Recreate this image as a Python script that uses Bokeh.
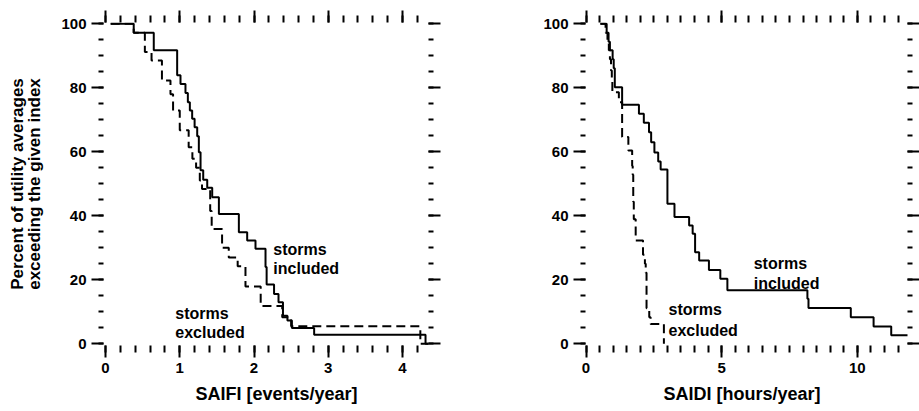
from bokeh.plotting import figure
from bokeh.models import LinearAxis, SingleIntervalTicker, Range1d, Title
from bokeh.layouts import row
from bokeh.embed import file_html
from bokeh.resources import INLINE
from bokeh.core.properties import value

# ---- data ----
# SAIFI, storms included: breakpoints [events/year] and percent level from that point on
saifi_incl_x = [0.07, 0.38, 0.65, 0.965, 1.01, 1.077, 1.109, 1.136, 1.167, 1.2, 1.235, 1.257,
                1.28, 1.316, 1.37, 1.437, 1.527, 1.796, 1.908, 2.02, 2.155, 2.17, 2.27, 2.33,
                2.39, 2.45, 2.51, 2.81, 4.31, 4.5]
saifi_incl_y = [100, 97.2, 91.7, 83.9, 81.2, 78.4, 75.5, 72.9, 70.3, 67.7, 64.9, 59.9,
                54.2, 51.3, 48.8, 45.8, 40.6, 34.9, 32.3, 29.7, 24.0, 18.5, 15.6, 13.0,
                8.8, 7.3, 4.9, 2.8, 0, 0]

# SAIFI, storms excluded
saifi_excl_x = [0.07, 0.38, 0.53, 0.62, 0.76, 0.875, 0.91, 1.0, 1.12, 1.17, 1.22, 1.27, 1.30,
                1.41, 1.43, 1.57, 1.66, 1.78, 1.885, 2.09, 2.38, 2.50, 4.24, 4.5]
saifi_excl_y = [100, 97.2, 91.2, 88.5, 82.3, 78.0, 72.9, 66.7, 61.4, 57.8, 55.0, 51.0, 48.4,
                41.5, 35.9, 30.0, 27.0, 24.2, 17.9, 11.8, 8.3, 5.5, 0, 0]

# SAIDI, storms included [hours/year]
saidi_incl_x = [0.53, 0.76, 0.83, 0.88, 0.98, 1.02, 1.06, 1.33, 1.95, 2.13, 2.32, 2.40, 2.52,
                2.66, 2.75, 3.0, 3.26, 3.8, 3.93, 4.02, 4.17, 4.53, 4.95, 5.21, 8.16, 8.2,
                9.76, 10.6, 11.25, 12.0]
saidi_incl_y = [100, 97.2, 94.4, 91.7, 88.9, 86.1, 80.2, 74.7, 71.9, 69.1, 66.1, 63.0, 59.8,
                57.0, 54.5, 43.8, 39.6, 37.0, 34.4, 28.6, 26.0, 23.1, 20.3, 16.7, 14.1, 11.2,
                8.3, 5.4, 2.7, 2.7]

# SAIDI, storms excluded
saidi_excl_x = [0.53, 0.72, 0.79, 0.84, 0.88, 0.92, 0.95, 0.97, 1.21, 1.33, 1.56, 1.70, 1.72,
                1.74, 1.76, 1.83, 2.10, 2.17, 2.20, 2.23, 2.33, 2.38, 2.87]
saidi_excl_y = [100, 97.2, 94.4, 91.7, 88.9, 85.4, 82.3, 78.6, 75.5, 64.6, 60.4, 55.6, 52.8,
                44.4, 38.9, 32.3, 27.8, 25.0, 22.2, 11.1, 8.3, 6.2, 0]

FONT = "Liberation Sans"


def style_axis(ax, ticker, minor_len, labels):
    ax.ticker = ticker
    ax.axis_line_color = None
    ax.major_tick_in = 0
    ax.major_tick_out = 12
    ax.minor_tick_in = 0
    ax.minor_tick_out = minor_len
    ax.major_tick_line_width = 2
    ax.minor_tick_line_width = 2
    ax.major_tick_line_color = "black"
    ax.minor_tick_line_color = "black"
    if labels:
        ax.major_label_text_font = FONT
        ax.major_label_text_font_style = "bold"
        ax.major_label_text_font_size = "15px"
        ax.major_label_text_color = "black"
        ax.major_label_standoff = 5
    else:
        ax.major_label_text_font_size = "1px"
        ax.major_label_text_color = None
        ax.major_label_standoff = 0


def make_panel(width, mb_left, mb_right, xr, xint, xminor, xlabel, xlabel_offset, ylabel):
    p = figure(width=width, height=411, x_range=Range1d(*xr), y_range=Range1d(-0.53, 100.41),
               output_backend="svg", toolbar_location=None,
               min_border_left=mb_left, min_border_right=mb_right,
               min_border_top=22, min_border_bottom=66)
    p.xgrid.visible = False
    p.ygrid.visible = False
    p.outline_line_color = None
    p.background_fill_color = "white"
    xt = SingleIntervalTicker(interval=xint, num_minor_ticks=xminor)
    yt = SingleIntervalTicker(interval=20, num_minor_ticks=4)
    bottom = p.xaxis[0]
    leftax = p.yaxis[0]
    style_axis(bottom, xt, 7, True)
    style_axis(leftax, yt, 5, True)
    top = LinearAxis()
    right = LinearAxis()
    style_axis(top, xt, 7, False)
    style_axis(right, yt, 5, False)
    p.add_layout(top, "above")
    p.add_layout(right, "right")
    t = Title(text=xlabel, align="left", offset=xlabel_offset, text_font=FONT,
              text_font_style="bold", text_font_size="18px", text_color="black", standoff=12)
    p.add_layout(t, "below")
    if ylabel:
        leftax.axis_label = ylabel
        leftax.axis_label_text_font = FONT
        leftax.axis_label_text_font_style = "bold"
        leftax.axis_label_text_font_size = "17px"
        leftax.axis_label_text_color = "black"
        leftax.axis_label_text_line_height = 0.92
        leftax.axis_label_standoff = 14
    return p


def add_text(p, x, y, txt):
    p.text(x=[x], y=[y], text=[txt], text_font=value(FONT), text_font_style="bold",
           text_font_size="16px", text_baseline="alphabetic", text_align="left",
           text_color="black")


left = make_panel(468, 103, 40, (-0.027, 4.35), 1, 5, "SAIFI [events/year]", 92,
                  "Percent of utility averages\nexceeding the given index")
left.step(saifi_incl_x, saifi_incl_y, mode="after", line_width=2, line_color="black")
left.step(saifi_excl_x, saifi_excl_y, mode="after", line_width=2, line_color="black",
          line_dash="9 5")
add_text(left, 2.26, 29.6, "storms")
add_text(left, 2.26, 23.4, "included")
add_text(left, 0.94, 9.4, "storms")
add_text(left, 0.94, 3.6, "excluded")

right = make_panel(451, 117, 12, (-0.02, 11.85), 5, 10, "SAIDI [hours/year]", 78, None)
right.step(saidi_incl_x, saidi_incl_y, mode="after", line_width=2, line_color="black")
right.step(saidi_excl_x, saidi_excl_y, mode="after", line_width=2, line_color="black",
           line_dash="9 5")
add_text(right, 6.18, 25.1, "storms")
add_text(right, 6.18, 18.9, "included")
add_text(right, 3.04, 10.6, "storms")
add_text(right, 3.04, 4.3, "excluded")

layout = row(left, right)
open("out.html", "w").write(file_html(layout, INLINE))
